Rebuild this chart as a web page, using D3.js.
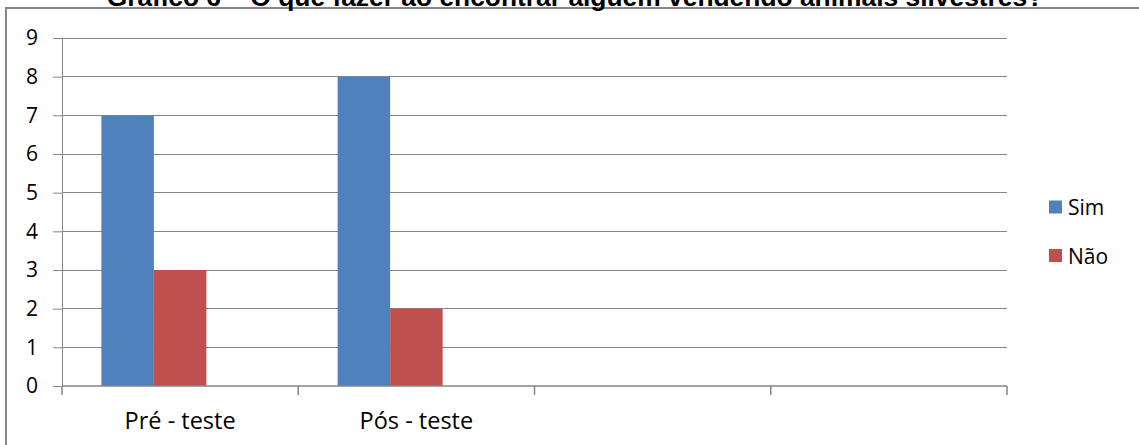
<!DOCTYPE html>
<html><head><meta charset="utf-8">
<script src="https://cdn.jsdelivr.net/npm/d3@7"></script>
<style>body{margin:0;background:#fff;}svg{display:block;}</style>
</head><body>
<svg id="c" width="1139" height="445"></svg>
<script>
const title = "Gráfico 6 – O que fazer ao encontrar alguém vendendo animais silvestres?";
const categories = ["Pré - teste", "Pós - teste", "", ""];
const seriesNames = ["Sim", "Não"];
const seriesSlots = ["Sim", "Não", "(vazio)"];
const simValues = [7, 8, null, null];
const naoValues = [3, 2, null, null];
const yTicks = [0, 1, 2, 3, 4, 5, 6, 7, 8, 9];
const colors = ["#4F81BD", "#C0504D"];

(function () {
const svg = d3.select("#c");
const font = "'Open Sans', 'Noto Sans', sans-serif";
const fs = 21, fsCat = 23.5;

// frame
svg.append("rect").attr("x", 6).attr("y", 8).attr("width", 1200).attr("height", 500)
  .attr("fill", "#fff").attr("stroke", "#868686").attr("stroke-width", 2);

// title (cropped at top, as in the reference)
const t = svg.append("text").attr("x", 575).attr("y", 5.5).attr("text-anchor", "middle")
  .attr("font-family", "'Liberation Sans', Arial, sans-serif").attr("font-weight", "bold")
  .attr("font-size", 26).attr("fill", "#000").text(title);
const tw = t.node().getComputedTextLength();
t.attr("font-size", 26 * 937 / tw);

const pL = 62, pR = 1007, pT = 38, pB = 386;
const x = d3.scaleBand().domain(d3.range(categories.length)).range([pL, pR]).padding(0);
const x1 = d3.scaleBand().domain(seriesSlots).range([0, x.bandwidth()]).paddingOuter(0.75).paddingInner(0);
const y = d3.scaleLinear().domain([0, 9]).range([pB, pT]);

// gridlines
svg.append("g").selectAll("line").data(yTicks.filter(d => d > 0)).join("line")
  .attr("x1", pL).attr("x2", pR).attr("y1", d => y(d)).attr("y2", d => y(d))
  .attr("stroke", "#868686").attr("stroke-width", 1).attr("shape-rendering", "crispEdges");

// bars
const series = [simValues, naoValues];
series.forEach((vals, si) => {
  svg.append("g").selectAll("rect").data(vals.map((v, i) => ({v, i})).filter(d => d.v != null)).join("rect")
    .attr("x", d => x(d.i) + x1(seriesSlots[si]))
    .attr("width", x1.bandwidth())
    .attr("y", d => y(d.v))
    .attr("height", d => y(0) - y(d.v))
    .attr("fill", colors[si]);
});

// y axis
const yAxis = svg.append("g").attr("transform", `translate(${pL},0)`)
  .call(d3.axisLeft(y).tickValues(yTicks).tickSize(9).tickPadding(15).tickFormat(d3.format("d")));
yAxis.select(".domain").attr("stroke", "#868686");
yAxis.selectAll(".tick line").attr("stroke", "#868686");
yAxis.selectAll("text").attr("font-family", font).attr("font-size", fs).attr("fill", "#000");

// x axis
const xAxis = svg.append("g").attr("transform", `translate(0,${pB})`)
  .call(d3.axisBottom(x).tickSize(0).tickFormat(i => categories[i]).tickPadding(26));
xAxis.select(".domain").remove();
xAxis.selectAll("text").attr("font-family", font).attr("font-size", fsCat).attr("fill", "#000");
svg.append("line").attr("x1", pL).attr("x2", pR).attr("y1", pB).attr("y2", pB)
  .attr("stroke", "#868686").attr("stroke-width", 1.5);
const bounds = d3.range(categories.length + 1).map(i => i < categories.length ? x(i) : pR);
svg.append("g").selectAll("line").data(bounds).join("line")
  .attr("x1", d => d).attr("x2", d => d).attr("y1", pB).attr("y2", pB + 9)
  .attr("stroke", "#868686").attr("stroke-width", 1.5);

// legend
const lg = svg.append("g");
seriesNames.forEach((n, i) => {
  const cy = 207 + i * 48.5;
  lg.append("rect").attr("x", 1049).attr("y", cy - 6.5).attr("width", 13).attr("height", 13).attr("fill", colors[i]);
  lg.append("text").attr("x", 1068).attr("y", cy + 1).attr("dy", "0.35em")
    .attr("font-family", font).attr("font-size", fs).attr("fill", "#000").text(n);
});
})();
</script>
</body></html>
